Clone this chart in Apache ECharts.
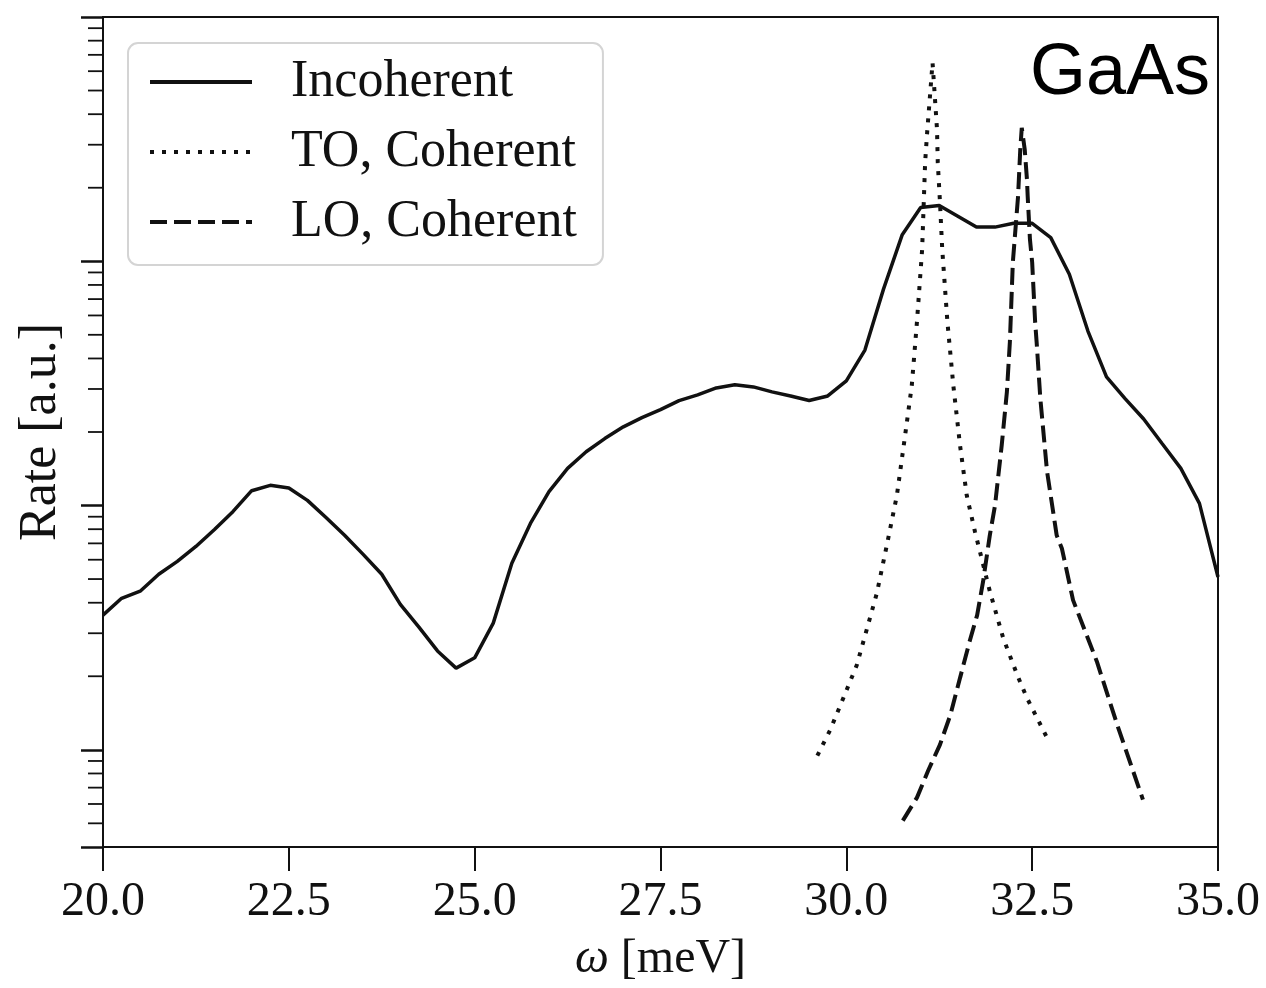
<!DOCTYPE html>
<html>
<head>
<meta charset="utf-8">
<script src="https://cdn.jsdelivr.net/npm/echarts@6/dist/echarts.min.js"></script>
<style>
  html, body { margin: 0; padding: 0; background: #fff; }
  #main { width: 1266px; height: 988px; }
</style>
</head>
<body>
<div id="main"></div>
<script>
// photon energy grid (meV) for the incoherent rate
var omega = [20, 20.25, 20.5, 20.75, 21, 21.25, 21.5, 21.75, 22, 22.25,
    22.5, 22.75, 23, 23.25, 23.5, 23.75, 24, 24.25, 24.5, 24.75,
    25, 25.25, 25.5, 25.75, 26, 26.25, 26.5, 26.75, 27, 27.25,
    27.5, 27.75, 28, 28.25, 28.5, 28.75, 29, 29.25, 29.5, 29.75,
    30, 30.25, 30.5, 30.75, 31, 31.25, 31.5, 31.75, 32, 32.25,
    32.5, 32.75, 33, 33.25, 33.5, 33.75, 34, 34.25, 34.5, 34.75, 35];

var incoherent = [3.56, 4.17, 4.46, 5.23, 5.91, 6.80, 7.98, 9.46, 11.5, 12.1,
    11.8, 10.5, 8.93, 7.55, 6.31, 5.23, 3.94, 3.18, 2.54, 2.16,
    2.38, 3.30, 5.80, 8.45, 11.4, 14.2, 16.6, 18.8, 21.0, 22.9,
    24.7, 26.9, 28.4, 30.3, 31.2, 30.6, 29.2, 28.1, 26.9, 28.1,
    32.4, 43.3, 76.9, 128, 166, 169, 153, 138, 138, 143,
    143, 125, 88.5, 51.8, 33.6, 27.4, 22.6, 17.9, 14.2, 10.2, 5.1];

// TO phonon, coherent
var toOmega = [29.61, 29.78, 29.96, 30.14, 30.28, 30.41, 30.55, 30.68, 30.79, 30.88,
    30.95, 31.02, 31.06, 31.09, 31.16, 31.22, 31.23, 31.26, 31.29, 31.36,
    31.44, 31.53, 31.62, 31.73, 31.93, 32.11, 32.30, 32.43, 32.70];
var toRate = [0.946, 1.20, 1.63, 2.22, 3.15, 4.37, 7.00, 11.0, 19.3, 30.9,
    56.4, 112, 254, 346, 649, 346, 254, 174, 112, 56.4,
    30.9, 17.6, 11.0, 7.83, 4.46, 2.87, 2.02, 1.63, 1.12];

// LO phonon, coherent
var loOmega = [30.76, 30.95, 31.10, 31.26, 31.40, 31.53, 31.66, 31.76, 31.84, 31.93,
    32.00, 32.09, 32.16, 32.20, 32.24, 32.31, 32.34, 32.36, 32.40, 32.43,
    32.44, 32.47, 32.50, 32.54, 32.56, 32.61, 32.70, 32.83, 32.90, 33.05,
    33.37, 33.65, 33.99];
var loRate = [0.513, 0.637, 0.821, 1.05, 1.39, 1.97, 2.79, 3.56, 4.89, 7.55,
    10.0, 17.6, 29.2, 46.7, 99, 184, 287, 352, 287, 216,
    184, 123, 99, 56.4, 46.7, 27.4, 13.8, 7.55, 6.67, 4.1,
    2.3, 1.25, 0.625];

var xTicks = [20, 35, 2.5];      // min, max, step
var yRange = [0.4, 1000];
var yMinorTicks = [0.5, 0.6, 0.7, 0.8, 0.9,
    2, 3, 4, 5, 6, 7, 8, 9,
    20, 30, 40, 50, 60, 70, 80, 90,
    200, 300, 400, 500, 600, 700, 800, 900];

var seriesNames = ['Incoherent', 'TO, Coherent', 'LO, Coherent'];

function pairs(xs, ys) {
    var out = [];
    for (var i = 0; i < xs.length; i++) {
        out.push([xs[i], ys[i]]);
    }
    return out;
}

var serif = '"Liberation Serif", "DejaVu Serif", serif';
var ink = '#111';

var myChart = echarts.init(document.getElementById('main'));

var option = {
    backgroundColor: '#fff',
    animation: false,
    grid: {
        left: 103,
        right: 48,
        top: 17,
        bottom: 140,
        show: true,
        borderColor: ink,
        borderWidth: 2,
        backgroundColor: 'transparent'
    },
    legend: {
        data: seriesNames,
        orient: 'vertical',
        left: 128,
        top: 43,
        padding: [13, 26, 17, 20],
        itemGap: 18,
        itemWidth: 102,
        itemHeight: 14,
        backgroundColor: '#fff',
        borderColor: '#d4d4d4',
        borderWidth: 2,
        borderRadius: 10,
        itemStyle: { opacity: 0 },
        lineStyle: { width: 4 },
        textStyle: {
            fontFamily: serif,
            fontSize: 52,
            color: ink,
            padding: [0, 0, 0, 34]
        }
    },
    xAxis: {
        type: 'value',
        min: xTicks[0],
        max: xTicks[1],
        interval: xTicks[2],
        name: '{w|ω} [meV]',
        nameLocation: 'middle',
        nameGap: 88,
        nameTextStyle: {
            fontFamily: serif,
            fontSize: 48,
            color: ink,
            rich: {
                w: { fontFamily: serif, fontStyle: 'italic', fontSize: 48, color: ink }
            }
        },
        axisLine: { lineStyle: { color: ink, width: 2 } },
        axisTick: { length: 24, lineStyle: { color: ink, width: 2 } },
        axisLabel: {
            margin: 31,
            fontFamily: serif,
            fontSize: 48,
            color: ink,
            formatter: function(v) { return v.toFixed(1); }
        },
        splitLine: { show: false }
    },
    yAxis: {
        type: 'log',
        logBase: 10,
        min: yRange[0],
        max: yRange[1],
        name: 'Rate [a.u.]',
        nameLocation: 'middle',
        nameGap: 36,
        nameTextStyle: {
            fontFamily: serif,
            fontSize: 52,
            color: ink
        },
        axisLine: { lineStyle: { color: ink, width: 2 } },
        axisTick: { length: 22, lineStyle: { color: ink, width: 2.5 } },
        axisLabel: { show: false },
        splitLine: { show: false }
    },
    graphic: [{
        type: 'text',
        right: 56,
        top: 38,
        style: {
            text: 'GaAs',
            font: '72px "Liberation Sans", "Open Sans", sans-serif',
            fill: '#000'
        }
    }],
    series: [{
        name: seriesNames[0],
        type: 'line',
        symbol: 'none',
        showSymbol: false,
        lineStyle: { color: ink, width: 3.5 },
        itemStyle: { color: ink },
        data: pairs(omega, incoherent)
    }, {
        name: seriesNames[1],
        type: 'line',
        symbol: 'none',
        showSymbol: false,
        lineStyle: { color: ink, width: 4, type: [4, 8], cap: 'butt' },
        itemStyle: { color: ink },
        data: pairs(toOmega, toRate)
    }, {
        name: seriesNames[2],
        type: 'line',
        symbol: 'none',
        showSymbol: false,
        lineStyle: { color: ink, width: 4, type: [17, 7], cap: 'butt' },
        itemStyle: { color: ink },
        data: pairs(loOmega, loRate)
    }, {
        // minor log ticks on the y axis
        name: 'minorTicks',
        type: 'custom',
        silent: true,
        clip: false,
        z: 10,
        renderItem: function(params, api) {
            var p = api.coord([api.value(0), api.value(1)]);
            var x0 = params.coordSys.x;
            return {
                type: 'line',
                shape: { x1: x0 - 15, y1: p[1], x2: x0, y2: p[1] },
                style: { stroke: ink, lineWidth: 1.8 }
            };
        },
        data: yMinorTicks.map(function(v) { return [xTicks[0], v]; })
    }]
};

myChart.setOption(option);
</script>
</body>
</html>
